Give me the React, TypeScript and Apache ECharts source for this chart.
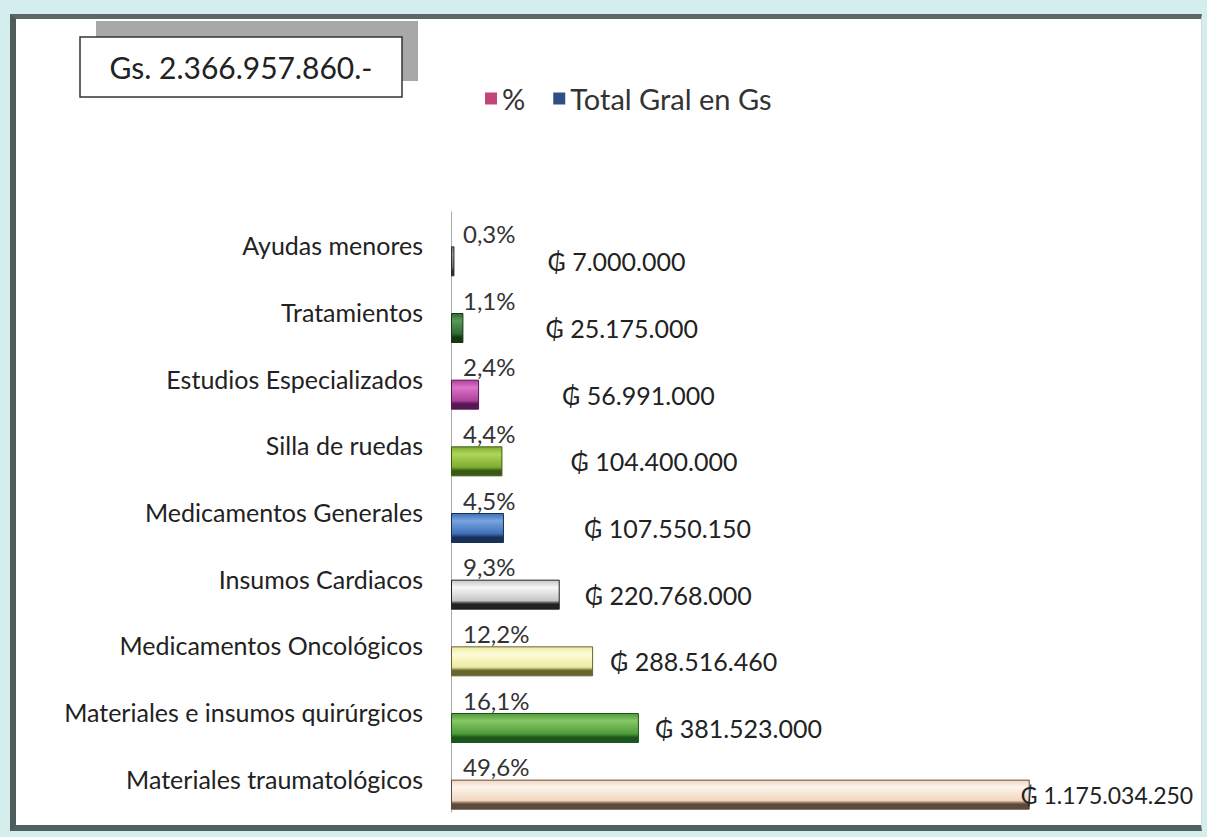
import React, { useEffect, useRef } from 'react';
import * as echarts from 'echarts';

// Data (bottom-to-top order, as the category axis draws it)
const categories = [
  'Materiales traumatológicos',
  'Materiales e insumos quirúrgicos',
  'Medicamentos Oncológicos',
  'Insumos Cardiacos',
  'Medicamentos Generales',
  'Silla de ruedas',
  'Estudios Especializados',
  'Tratamientos',
  'Ayudas menores',
];
const totals = [1175034250, 381523000, 288516460, 220768000, 107550150, 104400000, 56991000, 25175000, 7000000];
const percents = [49.6, 16.1, 12.2, 9.3, 4.5, 4.4, 2.4, 1.1, 0.3];
const legendNames = ['%', 'Total Gral en Gs'];
const grandTotalLabel = 'Gs. 2.366.957.860.-';

// Styles (same order as the data)
const barColors: [string, string, string][] = [
  ['#fdf4ec', '#f2d6bf', '#5e4a3c'],
  ['#86c766', '#4f9a3a', '#1d561d'],
  ['#fcfbd8', '#eeeaa2', '#66652f'],
  ['#f7f7f7', '#c6c6c6', '#222222'],
  ['#79a4de', '#3d6fb8', '#182f57'],
  ['#aed65a', '#7fae2f', '#3a5a14'],
  ['#dc74c8', '#b0409c', '#561850'],
  ['#5a9a5a', '#2f6a30', '#143614'],
  ['#a0a0a0', '#707070', '#2e2e2e'],
];
const valueLabelDistance = [-9, 16, 17, 25, 80, 68, 83, 82, 93];
const valueLabelSize = [23, 25, 25, 25, 25, 25, 25, 25, 25];

const FONT = 'Lato, "DejaVu Sans", sans-serif';

const fmtGs = (v: number) => '₲ ' + String(v).replace(/\B(?=(\d{3})+(?!\d))/g, '.');
const fmtPct = (v: number) => v.toFixed(1).replace('.', ',') + '%';

function barStyle(c: [string, string, string]) {
  return {
    color: new echarts.graphic.LinearGradient(0, 0, 0, 1, [
      { offset: 0, color: c[1] },
      { offset: 0.25, color: c[0] },
      { offset: 0.7, color: c[1] },
      { offset: 0.82, color: c[2] },
      { offset: 1, color: c[2] },
    ]),
    borderColor: c[2],
    borderWidth: 1,
  };
}

export default function App() {
  const ref = useRef<HTMLDivElement>(null);
  useEffect(() => {
    if (!ref.current) return;
    const chart = echarts.init(ref.current, undefined, { renderer: 'svg' });
    chart.setOption({
      animation: false,
      backgroundColor: 'transparent',
      legend: {
        data: legendNames,
        left: 480,
        top: 79,
        icon: 'rect',
        itemWidth: 12,
        itemHeight: 12,
        itemGap: 28,
        textStyle: { fontFamily: FONT, fontSize: 29, color: '#333' },
      },
      grid: { left: 451, top: 212, width: 591, height: 600 },
      xAxis: { type: 'value', min: 0, max: 1200000000, show: false },
      yAxis: {
        type: 'category',
        data: categories,
        axisLine: { show: true, lineStyle: { color: '#aaaaaa', width: 1 } },
        axisTick: { show: false },
        axisLabel: {
          fontFamily: FONT,
          fontSize: 25,
          color: '#222',
          margin: 28,
          padding: [10, 0, 0, 0],
        },
      },
      series: [
        {
          name: legendNames[0],
          type: 'bar',
          data: percents,
          barWidth: 10,
          barGap: '220%',
          itemStyle: { color: '#c2457a' },
          label: {
            show: true,
            position: 'right',
            distance: 12,
            offset: [0, 14],
            formatter: (p: any) => fmtPct(p.value),
            fontFamily: FONT,
            fontSize: 24,
            color: '#333',
          },
        },
        {
          name: legendNames[1],
          type: 'bar',
          barWidth: 30,
          barGap: '220%',
          itemStyle: { color: '#2f4f8a' },
          data: totals.map((v, i) => ({
            value: v,
            itemStyle: barStyle(barColors[i]),
            label: { distance: valueLabelDistance[i], fontSize: valueLabelSize[i] },
          })),
          label: {
            show: true,
            position: 'right',
            formatter: (p: any) => fmtGs(p.value),
            fontFamily: FONT,
            fontSize: 25,
            color: '#222',
          },
        },
      ],
      graphic: [
        { type: 'rect', shape: { x: 96, y: 21, width: 322, height: 60 }, style: { fill: '#a8a8a8' } },
        {
          type: 'rect',
          shape: { x: 80, y: 37, width: 322, height: 60 },
          style: { fill: '#ffffff', stroke: '#333', lineWidth: 1.5 },
        },
        {
          type: 'text',
          x: 241,
          y: 67,
          style: {
            text: grandTotalLabel,
            fontFamily: FONT,
            fontSize: 30,
            fill: '#222',
            align: 'center',
            verticalAlign: 'middle',
          },
        },
      ],
    });
    return () => chart.dispose();
  }, []);

  return (
    <div style={{ position: 'absolute', left: 0, top: 0, width: 1207, height: 837, background: '#d4eeee', overflow: 'hidden' }}>
      <div
        style={{
          position: 'absolute',
          left: 10,
          top: 14,
          width: 1192,
          height: 817,
          boxSizing: 'border-box',
          background: '#ffffff',
          borderLeft: '6px solid #4e5c5c',
          borderTop: '5px solid #5c6666',
          borderBottom: '6px solid #4e6262',
          borderRight: '1px solid #d8d8d8',
        }}
      />
      <div ref={ref} style={{ position: 'absolute', left: 0, top: 0, width: 1207, height: 837 }} />
    </div>
  );
}
